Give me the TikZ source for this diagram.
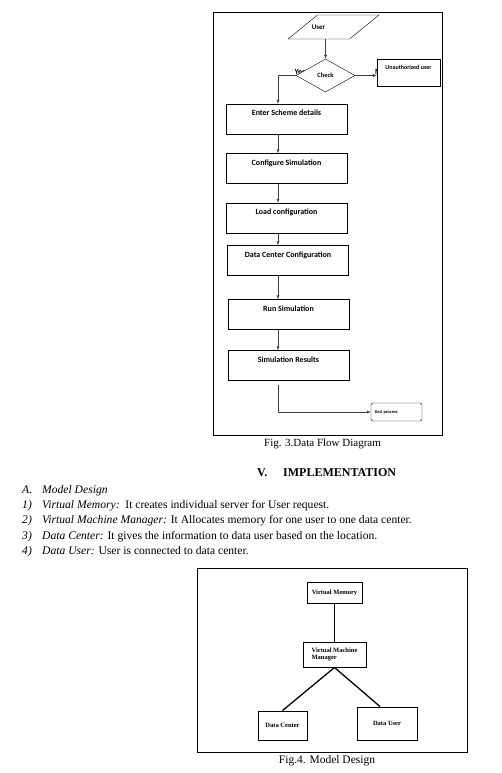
\documentclass[tikz,border=0pt]{standalone}
\usepackage{fontspec}
\setmainfont{Liberation Serif}
\newfontfamily\flowfont{Carlito}
\usetikzlibrary{shapes.geometric,arrows.meta,positioning}

\begin{document}
\begin{tikzpicture}[x=1pt,y=-1pt,
    flow/.style={draw=black!75,-{Latex[length=4pt,width=3pt]}},
    ftext/.style={font=\flowfont\bfseries\fontsize{8}{9}\selectfont},
    proc/.style={draw,fill=white,ftext,minimum width=121pt,inner sep=0pt,text height=11.5pt,text depth=18.5pt},
    mbox/.style={draw,line width=1pt,fill=white,inner sep=0pt,font=\bfseries\fontsize{6.5}{7.5}\selectfont},
    link/.style={line width=1.3pt},
    body/.style={anchor=base west,inner sep=0pt,font=\fontsize{11.6}{13}\selectfont}]
    \useasboundingbox (0,0) rectangle (501,773);

    \node[draw,minimum width=229pt,minimum height=423pt,inner sep=0pt] (frame3) at (327.5,223.5) {};
    \node[below=0pt of frame3,xshift=-5pt,font=\fontsize{11}{13}\selectfont] (cap3) {Fig. 3.Data Flow Diagram};

    \node[trapezium,trapezium left angle=46,trapezium right angle=134,trapezium stretches,draw,
      minimum width=91pt,minimum height=24pt,inner sep=2pt,
      label={[font=\flowfont\bfseries\fontsize{7}{8}\selectfont,xshift=-15pt]center:User}] (usr) at (333.5,27) {\phantom{U}};
    \node[anchor=base west,inner sep=0pt,ftext] (yes) at (294.5,75) {Yes};
    \node[anchor=base west,inner sep=0pt,ftext] (no) at (375,74.5) {No};
    \node[diamond,draw,fill=white,minimum width=59pt,minimum height=33pt,inner sep=0pt,
      font=\flowfont\bfseries\fontsize{6.5}{7.5}\selectfont] (chk) at (325.5,75.5) {Check};
    \node[draw,fill=white,minimum width=63pt,inner sep=0pt,text height=11pt,text depth=16pt,
      font=\flowfont\bfseries\fontsize{6}{7}\selectfont] (unauth) at (408.5,72.5) {Unauthorized user};
    \coordinate (spine) at (278,0);
    \node[proc] (scheme) at (286.5,119) {Enter Scheme details};
    \node[proc] (config) at (286.5,168.5) {Configure Simulation};
    \node[proc] (load) at (286.5,218) {Load configuration};
    \node[proc] (dcc) at (288,260.5) {Data Center Configuration};
    \node[proc] (runsim) at (288.5,314.5) {Run Simulation};
    \node[proc] (simres) at (288.5,365.5) {Simulation Results};
    \node[draw,rounded corners=2pt,minimum width=51pt,minimum height=18pt,text width=43pt,
      inner xsep=4pt,inner ysep=0pt,align=left,
      font=\flowfont\bfseries\fontsize{4.5}{5.5}\selectfont] (endp) at (396.5,412) {End process};

    \draw[flow] (usr.south -| chk.north) -- (chk.north);
    \draw[flow] (chk.west) -| (scheme.north -| spine);
    \draw[flow] (chk.east) -- (chk.east -| unauth.west);
    \path
      (scheme.south -| spine) edge[flow] (config.north -| spine)
      (config.south -| spine) edge[flow] (load.north -| spine)
      (load.south -| spine) edge[flow] (dcc.north -| spine)
      (dcc.south -| spine) edge[flow] (runsim.north -| spine)
      (runsim.south -| spine) edge[flow] (simres.north -| spine);
    \draw[flow] ([yshift=-4pt]simres.south -| spine) |- (endp.west);

    \node[font=\bfseries\fontsize{12}{14}\selectfont,anchor=base west,inner sep=0pt] (secnum) at (257,476) {V.};
    \node[font=\bfseries\fontsize{12}{14}\selectfont,anchor=base west,inner sep=0pt] (sectitle) at (283,476) {IMPLEMENTATION};
    \node[body] (lblA) at (22,493) {\itshape A.};
    \node[body] (itmA) at (42,493) {\itshape Model Design};
    \node[body] (lbl1) at (22,508) {\itshape 1)};
    \node[body] (itm1) at (42,508) {\textit{Virtual Memory:}\ \ It creates individual server for User request.};
    \node[body] (lbl2) at (22,523) {\itshape 2)};
    \node[body] (itm2) at (42,523) {\textit{Virtual Machine Manager:} It Allocates memory for one user to one data center.};
    \node[body] (lbl3) at (22,539) {\itshape 3)};
    \node[body] (itm3) at (42,539) {\textit{Data Center:} It gives the information to data user based on the location.};
    \node[body] (lbl4) at (22,554) {\itshape 4)};
    \node[body] (itm4) at (42,554) {\textit{Data User:} User is connected to data center.};

    \node[draw,minimum width=270pt,minimum height=184pt,inner sep=0pt] (frame4) at (332,660) {};
    \node[below=0pt of frame4,xshift=-5pt,font=\fontsize{11.5}{13}\selectfont] (cap4) {Fig.4. Model Design};
    \node[mbox,minimum width=55pt,minimum height=21pt] (vmem) at (334.5,592.5) {Virtual Memory};
    \node[mbox,minimum width=63pt,minimum height=25pt,align=left] (vmm) at (334.5,654.5) {Virtual Machine\\Manager};
    \node[mbox,minimum width=49pt,minimum height=29pt] (dcen) at (282.5,725.5) {Data Center};
    \node[mbox,minimum width=60pt,minimum height=33pt] (duser) at (387,723.5) {Data User};
    \draw[link] (vmem) -- (vmm);
    \draw[link] (vmm.south) -- (dcen.north);
    \draw[link] (vmm.south) -- ([xshift=-7pt]duser.north);
\end{tikzpicture}
\end{document}
